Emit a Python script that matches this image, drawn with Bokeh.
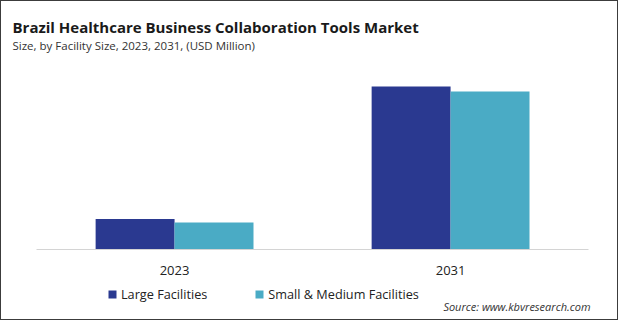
from bokeh.plotting import figure
from bokeh.models import Range1d, Legend, LegendItem, ColumnDataSource, Label, FixedTicker
from bokeh.embed import file_html
from bokeh.resources import INLINE

years = ["2023", "2031"]
large = [30.5, 163.0]
small = [27.0, 158.0]
series_names = ["Large Facilities", "Small & Medium Facilities"]
colors = ["#2a3990", "#4aabc5"]
title_text = "Brazil Healthcare Business Collaboration Tools Market"
subtitle_text = "Size, by Facility Size, 2023, 2031, (USD Million)"
source_text = "Source: www.kbvresearch.com"

BW = 0.286  # bar width in category units
centers = [i + 0.5 for i in range(len(years))]
src = ColumnDataSource(dict(
    xl=[c - BW / 2 for c in centers], xs=[c + BW / 2 for c in centers],
    large=large, small=small))

W, H = 618, 320
p = figure(width=W, height=H, x_range=Range1d(-0.127, 2.112),
           y_range=Range1d(-72, 248), output_backend="svg", toolbar_location=None,
           min_border=0, title=None)
p.styles = {"border": "1px solid #3c3c3c"}
p.outline_line_color = None
p.grid.visible = False
p.yaxis.visible = False
p.background_fill_color = "white"
p.border_fill_color = "white"

r1 = p.vbar(x="xl", top="large", width=BW, source=src, color=colors[0], line_color=None)
r2 = p.vbar(x="xs", top="small", width=BW, source=src, color=colors[1], line_color=None)

ax = p.xaxis[0]
ax.fixed_location = 0
ax.bounds = (0, 2)
ax.ticker = FixedTicker(ticks=centers)
ax.major_label_overrides = {c: y for c, y in zip(centers, years)}
ax.axis_line_color = "#d4d4d4"
ax.axis_line_width = 1
ax.major_tick_line_color = None
ax.minor_tick_line_color = None
ax.major_label_text_font = "Open Sans"
ax.major_label_text_font_size = "13px"
ax.major_label_text_color = "#222222"
ax.major_label_standoff = 10

def lab(text, x, y, size, style="normal", color="#222222", align="left"):
    p.add_layout(Label(x=x, y=y, x_units="screen", y_units="screen", text=text,
                       text_font="Open Sans", text_font_size=size, text_font_style=style,
                       text_color=color, text_baseline="alphabetic", text_align=align))

lab(title_text, 11, 295, "15px", "bold", "#1a1a1a")
lab(subtitle_text, 11, 276, "11.5px", "normal", "#333333")
lab(source_text, 589, 15, "11px", "italic", "#333333", align="right")

legend = Legend(items=[LegendItem(label=series_names[0], renderers=[r1]),
                       LegendItem(label=series_names[1], renderers=[r2])],
                orientation="horizontal", location=(106, 18), spacing=47,
                glyph_width=10, glyph_height=10, label_standoff=4,
                label_text_font="Open Sans", label_text_font_size="12.7px",
                label_text_color="#222222", border_line_color=None,
                background_fill_alpha=0, padding=0, margin=0)
p.add_layout(legend, "center")

open("out.html", "w").write(file_html(p, INLINE))
